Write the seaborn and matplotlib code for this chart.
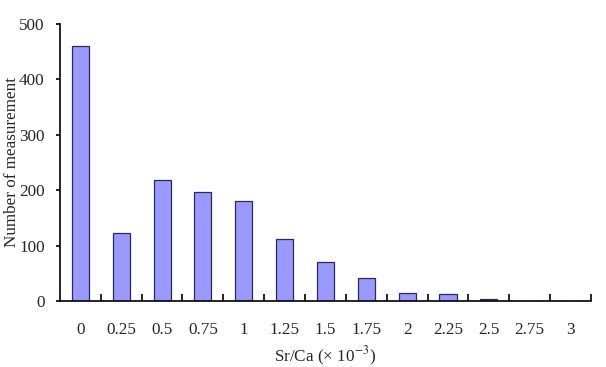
import numpy as np
import pandas as pd
import matplotlib
matplotlib.use('Agg')
import matplotlib.pyplot as plt
import seaborn as sns

ratio_labels = ['0', '0.25', '0.5', '0.75', '1', '1.25', '1.5', '1.75', '2', '2.25', '2.5', '2.75', '3']
counts = [460, 123, 219, 197, 180, 111, 70, 41, 14, 12, 3, 0, 0]

sns.set_style('white')
plt.rcParams['font.family'] = ['Liberation Serif', 'DejaVu Serif']
plt.rcParams['mathtext.fontset'] = 'stix'

df = pd.DataFrame({'ratio': ratio_labels, 'n': counts})

fig = plt.figure(figsize=(6.06, 3.67), dpi=100)
ax = fig.add_axes([0.099, 0.180, 0.876, 0.755])
sns.barplot(data=df, x='ratio', y='n', color='#9999ff', saturation=1,
            width=0.42, edgecolor='#2a2a55', linewidth=0.9, ax=ax)

fs = 12.3
ax.set_xlim(-0.5, 12.5)
ax.set_ylim(0, 500)
ax.set_yticks(np.arange(0, 501, 100))
ax.set_xticks(np.arange(0.5, 13, 1), minor=True)
ax.tick_params(axis='x', which='major', bottom=True, length=0, pad=15, labelsize=fs)
ax.tick_params(axis='x', which='minor', bottom=True, direction='in', length=5, width=1.2, color='black')
ax.tick_params(axis='y', which='major', left=True, direction='out', length=3, width=1.2,
               color='black', labelsize=fs, pad=8)
for s in ['top', 'right']:
    ax.spines[s].set_visible(False)
for s in ['left', 'bottom']:
    ax.spines[s].set_color('black')
    ax.spines[s].set_linewidth(1.2)

ax.set_xlabel('Sr/Ca (\u00d7 10$^{-3}$)', fontsize=fs)
ax.set_ylabel('Number of measurement', fontsize=fs)
ax.xaxis.set_label_coords(0.5, -0.2, transform=ax.transAxes)
ax.yaxis.set_label_coords(-0.09, 0.5, transform=ax.transAxes)
ax.yaxis.label.set_va('center')
ax.xaxis.label.set_va('center')

fig.savefig('out.png', dpi=100)
